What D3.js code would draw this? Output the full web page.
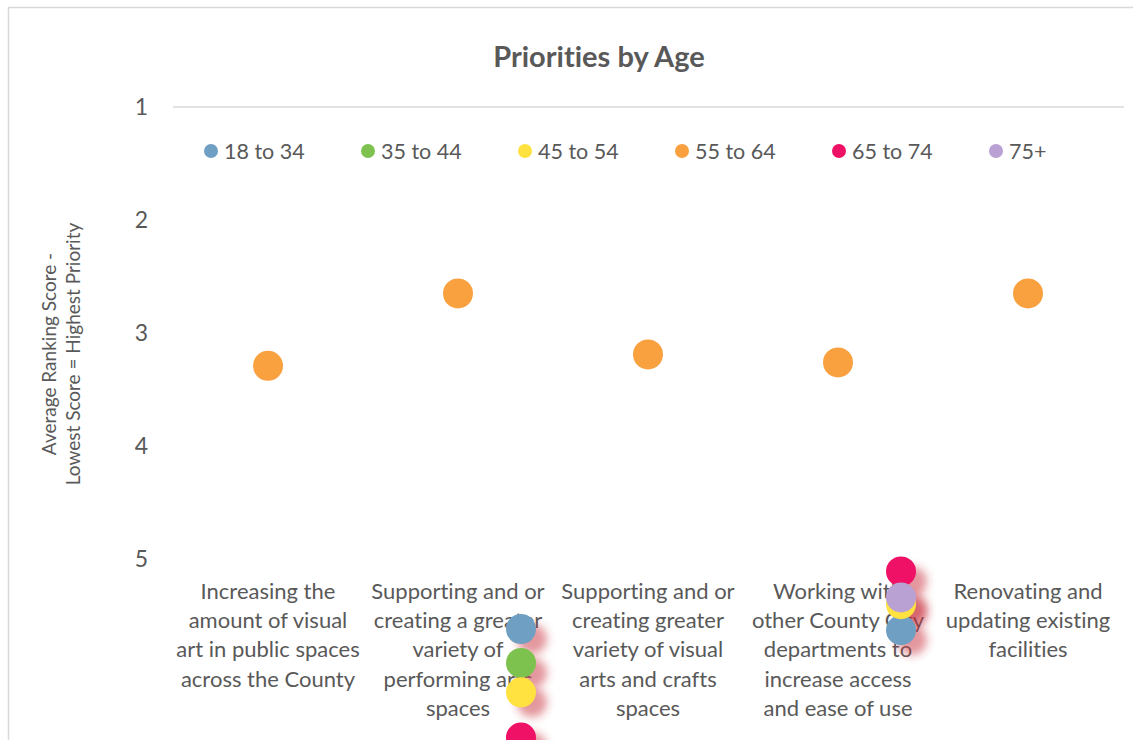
<!DOCTYPE html>
<html>
<head>
<meta charset="utf-8">
<script src="https://cdn.jsdelivr.net/npm/d3@7"></script>
<style>
  html, body { margin: 0; padding: 0; background: #fff; }
  svg { display: block; font-family: Lato, "Open Sans", sans-serif; }
  svg text, svg tspan {
    font-variant-ligatures: none;
    font-feature-settings: "liga" 0, "clig" 0, "dlig" 0, "calt" 0;
    text-rendering: optimizeSpeed;
  }
</style>
</head>
<body>
<svg id="chart" width="1133" height="740"></svg>
<script>
// Priority categories (x axis)
const categories = [
  ["Increasing the", "amount of visual", "art in public spaces", "across the County"],
  ["Supporting and or", "creating a greater", "variety of", "performing arts", "spaces"],
  ["Supporting and or", "creating greater", "variety of visual", "arts and crafts", "spaces"],
  ["Working with", "other County City", "departments to", "increase access", "and ease of use"],
  ["Renovating and", "updating existing", "facilities"]
];

// Age groups and their average ranking scores per category (null = no value)
const seriesNames = ["18 to 34", "35 to 44", "45 to 54", "55 to 64", "65 to 74", "75+"];
const age18to34 = [null, 5.62, null, 5.63, null];
const age35to44 = [null, 5.92, null, null, null];
const age45to54 = [null, 6.18, null, 5.40, null];
const age55to64 = [3.29, 2.65, 3.19, 3.26, 2.65];
const age65to74 = [null, 6.58, null, 5.11, null];
const age75plus = [null, null, null, 5.34, null];

// Y axis ticks
const yTicks = [1, 2, 3, 4, 5];

const seriesValues = [age18to34, age35to44, age45to54, age55to64, age65to74, age75plus];
const colors = ["#6f9fc3", "#7dc24f", "#ffe13f", "#f9a03f", "#ee1166", "#b9a2d3"];

const svg = d3.select("#chart");
const W = 1133, H = 740;

// Chart frame
svg.append("rect")
  .attr("x", 8.5).attr("y", 7.5)
  .attr("width", W + 20).attr("height", H + 20)
  .attr("fill", "#fff").attr("stroke", "#d9d9d9").attr("stroke-width", 1.5);

const plot = { left: 173, right: 1124, top: 107, bottom: 559 };

const x = d3.scaleBand()
  .domain(d3.range(categories.length))
  .range([plot.left, plot.right - 1])
  .padding(0);

// Reversed value axis: 1 at top, 5 at bottom
const y = d3.scaleLinear()
  .domain([1, 5])
  .range([plot.top, plot.bottom]);

// Title
svg.append("text")
  .attr("x", 599).attr("y", 67)
  .attr("text-anchor", "middle")
  .attr("font-size", 29).attr("font-weight", "bold")
  .attr("fill", "#595959")
  .text("Priorities by Age");

// Category axis line (crosses at 1, the top)
svg.append("line")
  .attr("x1", plot.left).attr("x2", plot.right)
  .attr("y1", y(1)).attr("y2", y(1))
  .attr("stroke", "#d9d9d9").attr("stroke-width", 1.5);

// Value axis labels
const yAxis = d3.axisLeft(y).tickValues(yTicks).tickSize(0).tickPadding(0).tickFormat(d3.format("d"));
const yg = svg.append("g").attr("transform", `translate(${plot.left - 25},0)`).call(yAxis);
yg.select(".domain").remove();
yg.selectAll("text")
  .attr("font-family", "Lato, sans-serif")
  .attr("font-size", 23).attr("fill", "#595959");

// Value axis title
const yTitle = svg.append("text")
  .attr("transform", "translate(62,354) rotate(-90)")
  .attr("text-anchor", "middle")
  .attr("font-size", 19).attr("fill", "#595959");
yTitle.append("tspan").attr("x", 0).attr("dy", "-0.3em").text("Average Ranking Score -");
yTitle.append("tspan").attr("x", 0).attr("dy", "1.25em").text("Lowest Score = Highest Priority");

// Category labels below the plot
const catG = svg.append("g");
categories.forEach((lines, i) => {
  const t = catG.append("text")
    .attr("text-anchor", "middle")
    .attr("font-size", 22).attr("fill", "#595959");
  lines.forEach((ln, j) => {
    t.append("tspan")
      .attr("x", x(i) + x.bandwidth() / 2)
      .attr("y", 599 + j * 29.2)
      .text(ln);
  });
});

// Legend
const legend = svg.append("g");
seriesNames.forEach((name, i) => {
  const lx = 211 + i * 157;
  legend.append("circle").attr("cx", lx).attr("cy", 151).attr("r", 7).attr("fill", colors[i]);
  legend.append("text").attr("x", lx + 13).attr("y", 158.5)
    .attr("font-size", 21.5).attr("fill", "#595959").text(name);
});

// Soft shadow for markers beyond the axis maximum
const defs = svg.append("defs");
const f = defs.append("filter").attr("id", "markerShadow")
  .attr("x", "-100%").attr("y", "-100%").attr("width", "300%").attr("height", "300%");
f.append("feGaussianBlur").attr("in", "SourceAlpha").attr("stdDeviation", 4.5).attr("result", "b");
f.append("feOffset").attr("in", "b").attr("dx", 11).attr("dy", 10).attr("result", "o");
f.append("feFlood").attr("flood-color", "#c8303c").attr("flood-opacity", 0.5).attr("result", "c");
f.append("feComposite").attr("in", "c").attr("in2", "o").attr("operator", "in").attr("result", "s");
const m = f.append("feMerge");
m.append("feMergeNode").attr("in", "s");

// Markers past the axis maximum sit to the right of the category centre
const overflowShift = 63;
const r = 15;

const points = [];
seriesValues.forEach((vals, si) => {
  vals.forEach((v, ci) => {
    if (v != null) points.push({ si, ci, v });
  });
});

// Shadow layer under overflow markers
const overflowG = svg.append("g");
overflowG.selectAll("circle.sh")
  .data(points.filter(p => p.v > 5))
  .join("circle")
  .attr("class", "sh")
  .attr("cx", p => x(p.ci) + x.bandwidth() / 2 + overflowShift)
  .attr("cy", p => y(p.v))
  .attr("r", r)
  .attr("fill", "#000")
  .attr("filter", "url(#markerShadow)");

// Markers, later series on top
const mainG = svg.append("g");
const ordered = points.slice().sort((a, b) => a.si - b.si);
mainG.selectAll("circle")
  .data(ordered)
  .join("circle")
  .attr("cx", p => x(p.ci) + x.bandwidth() / 2 + (p.v > 5 ? overflowShift : 0))
  .attr("cy", p => y(p.v))
  .attr("r", r)
  .attr("fill", p => colors[p.si]);
</script>
</body>
</html>
